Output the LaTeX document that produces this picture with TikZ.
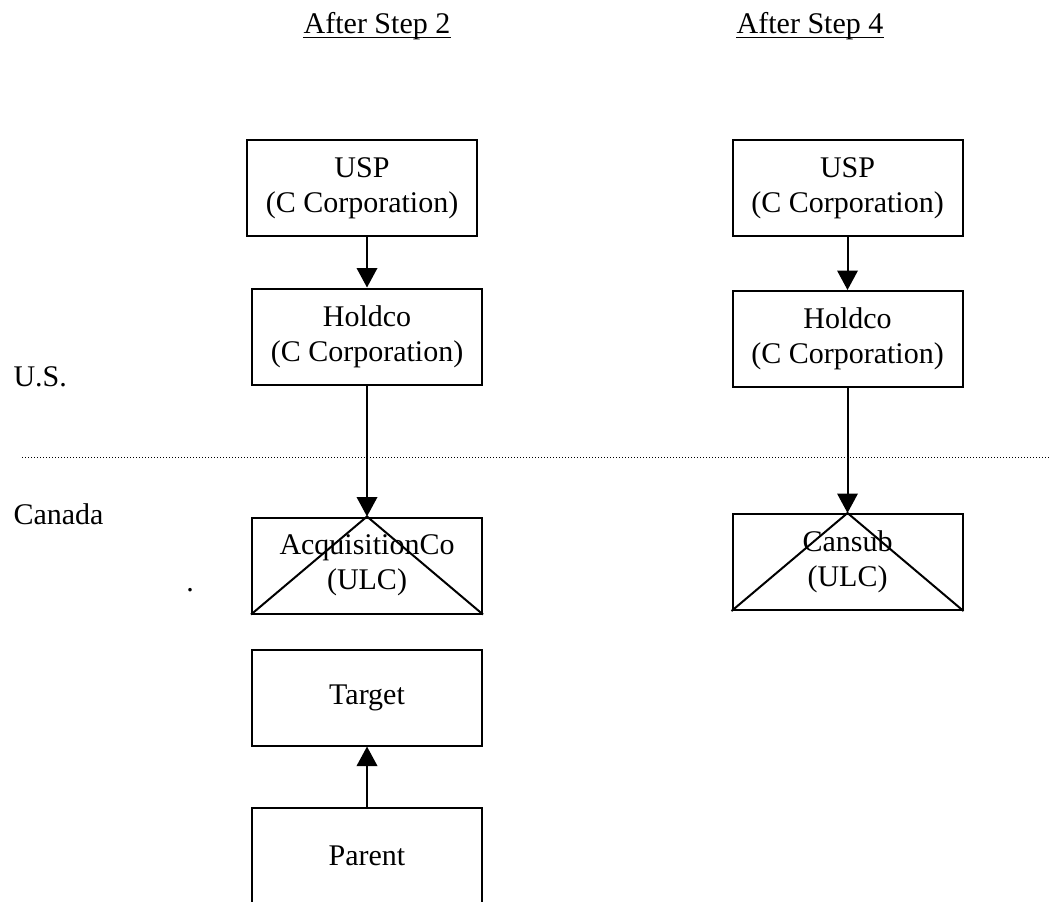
\documentclass[tikz,border=0pt]{standalone}
\usepackage{fontspec}
\setmainfont{Liberation Serif}
\usetikzlibrary{arrows.meta}

\begin{document}
\begin{tikzpicture}[x=0.4pt,y=-0.4pt,
        entity/.style={draw, line width=0.8pt, minimum width=92pt, minimum height=38.4pt, inner sep=0pt, align=center, font=\fontsize{12}{14}\selectfont},
        arr/.style={-{Triangle[length=7.8pt,width=8.2pt]}, line width=0.8pt},
        lbl/.style={inner sep=0pt, font=\fontsize{12}{14}\selectfont}]
    \useasboundingbox (0,0) rectangle (1050,901);
    % headings
    \node[lbl, anchor=base] (head2) at (377,33) {After Step 2};
    \node[lbl, anchor=base] (head4) at (810,33) {After Step 4};
    \draw[line width=0.6pt] ([yshift=-1.7pt]head2.base west) -- ([yshift=-1.7pt]head2.base east);
    \draw[line width=0.6pt] ([yshift=-1.7pt]head4.base west) -- ([yshift=-1.7pt]head4.base east);
    % side labels
    \node[lbl, anchor=west] (us) at (13,377) {U.S.};
    \node[lbl, anchor=west] (ca) at (13,514) {Canada};
    \node[lbl, anchor=base] (dot) at (190,591) {.};
    \draw[line width=0.4pt, dash pattern=on 0.4pt off 0.8pt] (22,457) -- (1050,457);
    % after step 2
    \node[entity] (usp2) at (362,188) {USP\\(C Corporation)};
    \node[entity] (hold2) at (367,336.5) {Holdco\\(C Corporation)};
    \node[entity] (acq) at (367,565.5) {AcquisitionCo\\(ULC)};
    \node[entity] (target) at (367,697.5) {Target};
    \node[entity] (parent) at (367,856) {Parent};
    \draw[line width=0.8pt] (acq.south west) -- (acq.north) -- (acq.south east);
    \draw[arr] (usp2.south -| hold2.north) -- (hold2.north);
    \draw[arr] (hold2.south) -- (acq.north);
    \draw[arr] (parent.north) -- (target.south);
    % after step 4
    \node[entity] (usp4) at (847.5,188) {USP\\(C Corporation)};
    \node[entity] (hold4) at (847.5,339) {Holdco\\(C Corporation)};
    \node[entity] (cansub) at (847.5,562) {Cansub\\(ULC)};
    \draw[line width=0.8pt] (cansub.south west) -- (cansub.north) -- (cansub.south east);
    \draw[arr] (usp4.south) -- (hold4.north);
    \draw[arr] (hold4.south) -- (cansub.north);
\end{tikzpicture}
\end{document}
